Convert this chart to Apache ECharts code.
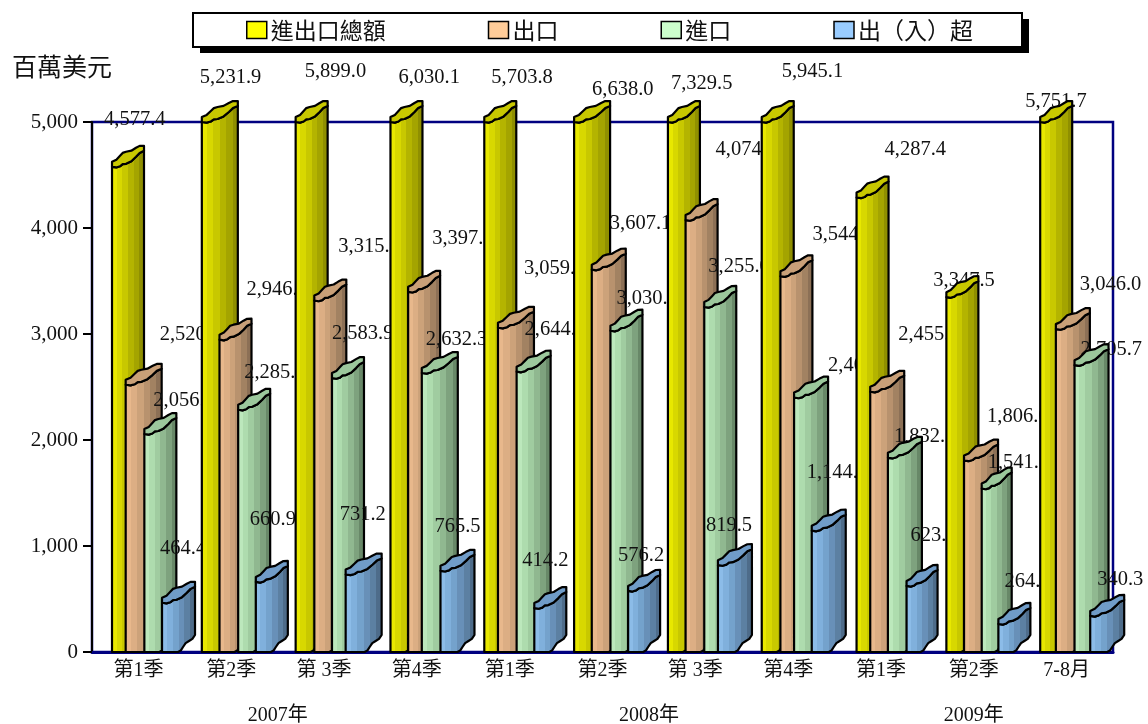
<!DOCTYPE html>
<html>
<head>
<meta charset="utf-8">
<style>html,body{margin:0;padding:0;background:#fff}#chart{width:1148px;height:724px}</style>
<script src="https://cdn.jsdelivr.net/npm/echarts@6/dist/echarts.min.js"></script>
</head>
<body>
<div id="chart"></div>
<script>
// Quarterly trade figures, millions of US dollars
const categories = ['第1季','第2季','第 3季','第4季','第1季','第2季','第 3季','第4季','第1季','第2季','7-8月'];
const yearLabels = [['2007年',0,4],['2008年',4,8],['2009年',8,11]];
const seriesNames = ['進出口總額','出口','進口','出（入）超'];
const totalTrade = [4577.4,5231.9,5899.0,6030.1,5703.8,6638.0,7329.5,5945.1,4287.4,3347.5,5751.7];
const exportsValue = [2520.9,2946.4,3315.1,3397.8,3059.0,3607.1,4074.5,3544.9,2455.3,1806.0,3046.0];
const importsValue = [2056.5,2285.5,2583.9,2632.3,2644.8,3030.9,3255.0,2400.2,1832.1,1541.5,2705.7];
const surplus = [464.4,660.9,731.2,765.5,414.2,576.2,819.5,1144.7,623.2,264.5,340.3];
const valueTicksMax = 5000;

// Hand-placed value labels: shift in px from each bar's nominal front-left top corner
const labelShiftX = [
  [-8,-5,7,8,8,16,2,20,30,-14,-15],
  [31,25,24,25,24,17,30,34,27,23,23],
  [8,6,1,2,8,7,6,33,6,7,7],
  [-2,-5,-8,-6,-11,-8,-13,-5,6,7,7]
];
const labelShiftY = [
  [-49,-46,-52,-46,-46,-34,-40,-52,-50,-19,-22],
  [-52,-52,-56,-55,-61,-48,-72,-44,-59,-46,-47],
  [-35,-39,-46,-35,-44,-34,-42,-34,-23,-28,-18],
  [-56,-64,-62,-46,-49,-37,-42,-60,-52,-44,-38]
];
// Small per-bar horizontal nudges that keep the columns on whole-pixel slots
const barNudge = [
  [0,-3,-2,0,1,-2,-1,0,2,-1,0],
  [-3,-2,0,1,-2,-1,0,2,-1,0,-1],
  [-1,0,1,-2,0,1,2,-1,0,1,1],
  [0,1,-2,0,1,2,-1,0,2,1,0]
];
// Outer column widths in px
const barWidths = [
  [32,36,32,32,32,36,32,32,32,32,32],
  [36,32,32,32,36,34,32,32,34,34,34],
  [32,32,32,36,34,32,32,34,34,30,34],
  [33,32,36,34,32,32,34,34,31,32,34]
];

const legendColors = ['#FFFF00','#FFCC99','#CCFFCC','#99CCFF'];
const capColors = ['#c8c800','#c9a078','#9cc89c','#709cc8'];
const bodyShades = [
  ['#e8e800','#d8d800','#c8c800','#b4b400','#a4a400','#8f8f00'],
  ['#e8b88c','#dcae84','#cca27a','#b8926e','#a28262','#8c7056'],
  ['#bce8bc','#aedcae','#a0cca0','#90b890','#7ea27e','#688868'],
  ['#8cbce8','#80b0dc','#74a2cc','#6890b8','#5c80a2','#4e6c8a']
];

const BAR_STEP = 16.67, GROUP_SHIFT = -26.4;
const FLOOR_RISE = 17;
// Outline of the cut top, relative to the front-left corner of a 32px column
const LOWER_EDGE = [[0,0],[8,-0.5],[14,-3],[24,-10],[32,-16]];
const UPPER_EDGE = [[0,-5],[8,-11],[14,-15],[24,-19],[32,-21]];

// Banded horizontal fill that reads as a faceted, rounded column
function bandStops(shades) {
  const stops = [];
  shades.forEach((c, i) => {
    stops.push({offset: i / shades.length, color: c});
    stops.push({offset: (i + 1) / shades.length, color: c});
  });
  return stops;
}

// Adds a small alternating ripple along a polyline
function rippled(pts, amp) {
  const out = [pts[0]];
  for (let i = 1; i < pts.length; i++) {
    const a = pts[i - 1], b = pts[i];
    const s = i % 2 ? amp : -amp;
    out.push([(a[0] + b[0]) / 2 + s * 0.4, (a[1] + b[1]) / 2 + s]);
    out.push(b);
  }
  return out;
}

function barRenderer(si, values) {
  return function (params, api) {
    const k = api.value(0), v = api.value(1);
    const top = api.coord([k, Math.min(v, valueTicksMax)]);
    const base = api.coord([k, 0]);
    const nominalLeft = top[0] + GROUP_SHIFT + si * BAR_STEP;
    const left = nominalLeft + barNudge[si][k];
    const span = barWidths[si][k];
    const right = left + span;
    const y = top[1], by = base[1];
    const order = (k * 4 + si) * 10;
    const place = p => [left + p[0] * span / 32, y + p[1]];
    const lower = rippled(LOWER_EDGE.map(place), 0.9);
    const upper = rippled(UPPER_EDGE.map(place), 0.9);
    const floor = rippled([[right, by - FLOOR_RISE], [right - 6, by - 11], [right - 12, by - 5], [right - 17, by]], 0.9);
    const body = lower.concat(floor, [[left, by]]);
    const cap = upper.concat(lower.slice().reverse());
    const label = values[params.dataIndex].toLocaleString('en-US', {minimumFractionDigits: 1, maximumFractionDigits: 1});
    return {
      type: 'group',
      children: [
        {
          type: 'text', z2: order,
          style: {
            text: label,
            x: nominalLeft + labelShiftX[si][k],
            y: y + labelShiftY[si][k] + 2,
            fill: '#111',
            font: '20.5px "Liberation Serif", serif',
            textAlign: 'left', textVerticalAlign: 'middle'
          }
        },
        {
          type: 'polygon', z2: order + 1,
          shape: {points: body},
          style: {
            fill: {type: 'linear', x: 0, y: 0, x2: 1, y2: 0, colorStops: bandStops(bodyShades[si])},
            stroke: '#000', lineWidth: 2.2, lineJoin: 'round'
          }
        },
        {
          type: 'polygon', z2: order + 2,
          shape: {points: cap},
          style: {fill: capColors[si], stroke: '#000', lineWidth: 2.2, lineJoin: 'round'}
        }
      ]
    };
  };
}

const allSeries = [totalTrade, exportsValue, importsValue, surplus].map((vals, si) => ({
  type: 'custom',
  name: seriesNames[si],
  renderItem: barRenderer(si, vals),
  encode: {x: 0, y: 1},
  itemStyle: {color: legendColors[si]},
  data: vals.map((v, k) => [k, v])
}));

// Year captions under the quarter labels, centred on their span of categories
allSeries.push({
  type: 'custom',
  silent: true,
  renderItem(params, api) {
    const a = api.coord([api.value(0), 0]);
    const b = api.coord([api.value(1) - 1, 0]);
    return {
      type: 'text',
      style: {
        text: yearLabels[params.dataIndex][0],
        x: (a[0] + b[0]) / 2, y: a[1] + 64,
        fill: '#111',
        font: '20px "Liberation Serif", "Noto Sans CJK TC", serif',
        textAlign: 'center', textVerticalAlign: 'middle'
      }
    };
  },
  encode: {x: 0},
  data: yearLabels.map(d => [d[1], d[2]])
});

const chart = echarts.init(document.getElementById('chart'));
chart.setOption({
  animation: false,
  backgroundColor: '#fff',
  title: {
    text: '百萬美元', left: 12, top: 54, padding: 0,
    textStyle: {fontFamily: '"Noto Sans CJK TC"', fontSize: 25, fontWeight: 'normal', color: '#111'}
  },
  // Solid drop shadow behind the legend frame
  graphic: [{
    type: 'rect', z: 1,
    shape: {x: 200, y: 19, width: 829, height: 34},
    style: {fill: '#000'}
  }],
  legend: {
    left: 193, top: 13,
    padding: [5, 49, 5, 53],
    backgroundColor: '#fff',
    borderColor: '#000', borderWidth: 2,
    itemWidth: 20, itemHeight: 17, itemGap: 102,
    icon: 'rect',
    itemStyle: {borderColor: '#000', borderWidth: 1.5},
    textStyle: {fontFamily: '"Noto Sans CJK TC"', fontSize: 23, lineHeight: 24, color: '#111', padding: [0, 0, 0, -1]},
    data: seriesNames
  },
  grid: {
    show: true, left: 92, right: 35, top: 122, bottom: 72,
    borderColor: '#000080', borderWidth: 2.5, backgroundColor: 'transparent'
  },
  xAxis: {
    type: 'category', data: categories,
    axisLine: {lineStyle: {color: '#000080', width: 3}},
    axisTick: {show: false},
    axisLabel: {
      interval: 0, margin: 9, color: '#111', fontSize: 20,
      fontFamily: '"Liberation Serif", "Noto Sans CJK TC", serif'
    }
  },
  yAxis: {
    type: 'value', min: 0, max: valueTicksMax, interval: 1000,
    axisLine: {show: true, lineStyle: {color: '#000', width: 2}},
    axisTick: {show: true, length: 9, lineStyle: {color: '#000', width: 2}},
    splitLine: {show: false},
    axisLabel: {
      margin: 14, color: '#111', fontSize: 21, padding: [4, 0, 0, 0],
      fontFamily: '"Liberation Serif", serif',
      formatter: v => v.toLocaleString('en-US')
    }
  },
  series: allSeries
});
</script>
</body>
</html>
